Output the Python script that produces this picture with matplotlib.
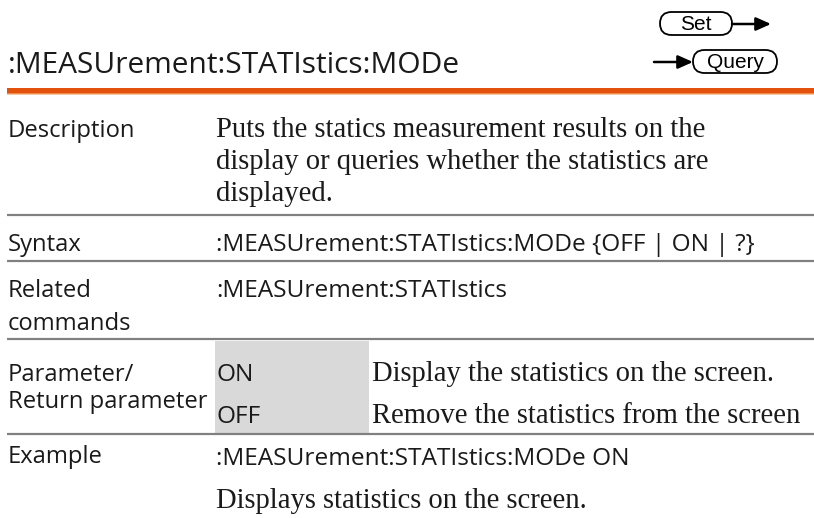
import matplotlib
matplotlib.use("Agg")
import matplotlib.pyplot as plt
from matplotlib.patches import FancyBboxPatch, Rectangle

# ---- content ----
title = ":MEASUrement:STATIstics:MODe"
btn_set = "Set"
btn_query = "Query"
row_labels = [["Description"], ["Syntax"], ["Related", "commands"],
              ["Parameter/", "Return parameter"], ["Example"]]
description_lines = ["Puts the statics measurement results on the",
                     "display or queries whether the statistics are",
                     "displayed."]
syntax_text = ":MEASUrement:STATIstics:MODe {OFF | ON | ?}"
related_text = ":MEASUrement:STATIstics"
param_names = ["ON", "OFF"]
param_desc = ["Display the statistics on the screen.",
              "Remove the statistics from the screen"]
example_cmd = ":MEASUrement:STATIstics:MODe ON"
example_desc = "Displays statistics on the screen."

W, H = 814, 518
fig = plt.figure(figsize=(W / 100, H / 100), dpi=100)
ax = fig.add_axes([0, 0, 1, 1])
ax.set_xlim(0, W)
ax.set_ylim(H, 0)
ax.axis("off")
renderer = fig.canvas.get_renderer()

SANS = ["Open Sans", "DejaVu Sans"]
SERIF = ["Liberation Serif", "DejaVu Serif"]
ARIAL = ["Liberation Sans", "DejaVu Sans"]
TXT = "#1a1a1a"


def fit_size(s, family, target):
    t = ax.text(0, 0, s, fontsize=10, family=family)
    w = t.get_window_extent(renderer).width
    t.remove()
    return 10 * target / w


fs_title = fit_size(title, SANS, 452)
fs_label = fit_size("Description", SANS, 127)
fs_code = fit_size(syntax_text, SANS, 539)
fs_serif = min(fit_size(description_lines[0], SERIF, 507),
               fit_size(param_desc[1], SERIF, 429))
fs_btn = fit_size(btn_query, ARIAL, 57)


def put(x, y, s, fs, fam, **kw):
    ax.text(x, y, s, fontsize=fs, family=fam, color=TXT, va="baseline", ha="left", **kw)


# title
put(8, 73, title, fs_title, SANS)
# orange rule
ax.add_patch(Rectangle((7, 88), W - 7, 4.5, color="#E2520C", lw=0))
ax.add_patch(Rectangle((7, 92.5), W - 7, 1.5, color="#F08A48", lw=0))
ax.add_patch(Rectangle((7, 94), W - 7, 1.2, color="#F9C9A3", lw=0))

# buttons
def pill(x0, x1, y0, y1, label):
    h = y1 - y0
    ax.add_patch(FancyBboxPatch((x0, y0), x1 - x0, h,
                                boxstyle=f"round,pad=0,rounding_size={h/2}",
                                fc="white", ec="black", lw=1.3))
    ax.text((x0 + x1) / 2, y1 - 5.5, label, fontsize=fs_btn, family=ARIAL,
            color="black", ha="center", va="baseline")

pill(660, 732, 12, 35, btn_set)
pill(693, 777, 50, 73, btn_query)
arrow = dict(arrowstyle="-|>,head_length=0.9,head_width=0.4", color="black", lw=1.8,
             shrinkA=0, shrinkB=0)
ax.annotate("", xy=(771, 24), xytext=(732, 24), arrowprops=arrow)
ax.annotate("", xy=(693, 62), xytext=(654, 62), arrowprops=arrow)

# shaded parameter cell
ax.add_patch(Rectangle((215, 341), 369 - 215, 433 - 341, color="#D9D9D9", lw=0))

# separators
for y in [215, 261, 339, 434]:
    ax.plot([7, W], [y, y], color="#808080", lw=1.6, solid_capstyle="butt")

# labels
LX = 8
label_baselines = [[137], [251], [297, 330], [381, 408], [463]]
for lines, ys in zip(row_labels, label_baselines):
    for s, y in zip(lines, ys):
        put(LX, y, s, fs_label, SANS)

CX = 216
for s, y in zip(description_lines, [137, 169, 201]):
    put(CX, y, s, fs_serif, SERIF)
put(CX, 251, syntax_text, fs_code, SANS)
put(CX, 297, related_text, fs_code, SANS)
for name, desc, y in zip(param_names, param_desc, [381, 423]):
    put(217, y, name, fs_code, SANS)
    put(372, y, desc, fs_serif, SERIF)
put(CX, 465, example_cmd, fs_code, SANS)
put(CX, 508, example_desc, fs_serif, SERIF)

fig.savefig("out.png", dpi=100, facecolor="white")
